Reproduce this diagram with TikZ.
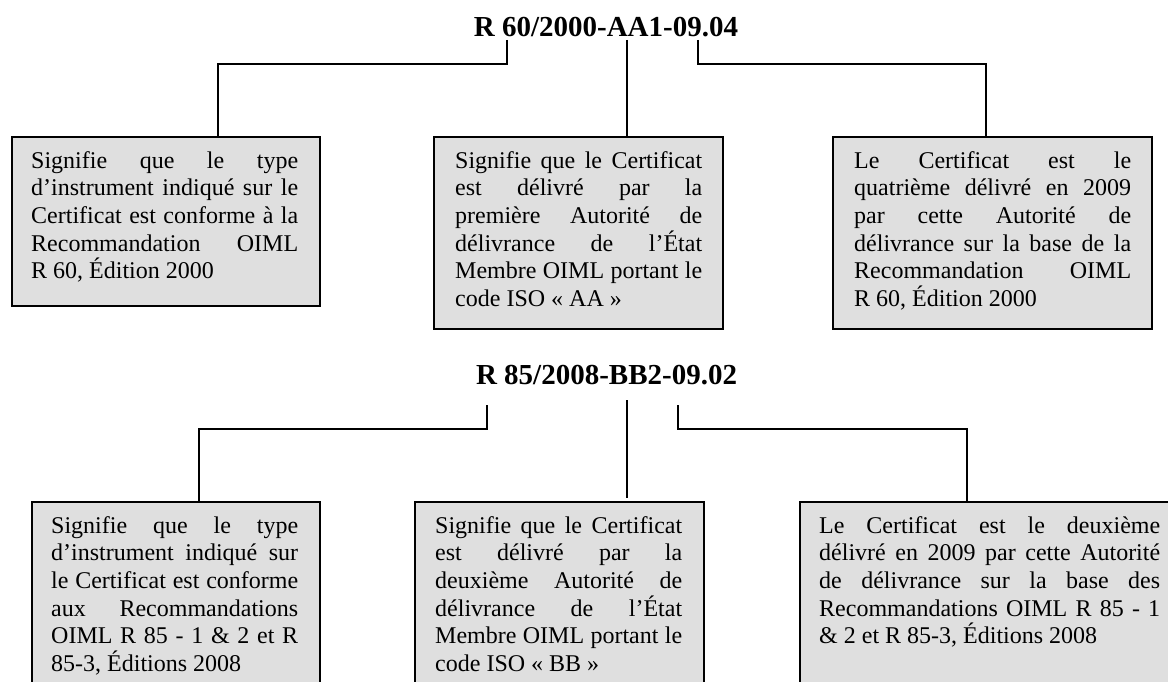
\documentclass[tikz,border=0pt]{standalone}
\usepackage{fontspec}
\setmainfont{Liberation Serif}
\definecolor{boxgray}{RGB}{223,223,223}
\tolerance=10000
\hyphenpenalty=10000
\begin{document}
\begin{tikzpicture}[x=1pt, y=-1pt,
    infobox/.style={draw, line width=1.6pt, fill=boxgray, inner sep=0pt, anchor=north west},
    boxtext/.style={text width=#1, align=justify, inner sep=0pt, anchor=base west,
        font=\fontsize{24}{27.7}\selectfont},
    certcode/.style={inner sep=0pt, anchor=base, font=\fontsize{29}{33}\selectfont\bfseries},
    link/.style={line width=1.4pt}]
    \useasboundingbox (0,0) rectangle (1168,682);
    \clip (0,0) rectangle (1168,682);
    % boxes: name/x/y/width/height
    \foreach \n/\x/\y/\w/\h in {sensA1/11/136/308/169, sensA2/433/136/289/192, sensA3/832/136/319/192,
                                sensB1/31/501/288/220, sensB2/414/501/289/220, sensB3/799/501/390/220} {
        \node[infobox, minimum width=\w, minimum height=\h] (\n) at (\x,\y) {};
    }
    % first number
    \node[certcode] (cert1) at (606,37) {R 60/2000-AA1-09.04};
    \node[boxtext=267] (txtA1) at (31,168) {Signifie que le type\linebreak
        d’instrument indiqué sur le\linebreak Certificat est conforme à la\linebreak
        Recommandation OIML\linebreak R 60, Édition 2000};
    \node[boxtext=247] (txtA2) at (455,168) {Signifie que le Certificat\linebreak
        est délivré par la\linebreak première Autorité de\linebreak
        délivrance de l’État\linebreak Membre OIML portant le\linebreak code ISO «~AA~»};
    \node[boxtext=277] (txtA3) at (854,168) {Le Certificat est le\linebreak
        quatrième délivré en 2009\linebreak par cette Autorité de\linebreak
        délivrance sur la base de la\linebreak Recommandation OIML\linebreak R 60, Édition 2000};
    \coordinate (tapA1) at (507,40);
    \coordinate (tapA2) at (627,40);
    \coordinate (tapA3) at (698,40);
    \draw[link] (tapA1) -- ++(0,24) -| ([xshift=207pt]sensA1.north west);
    \draw[link] (tapA2) -- (tapA2 |- sensA2.north);
    \draw[link] (tapA3) -- ++(0,24) -| ([xshift=154pt]sensA3.north west);
    % second number
    \node[certcode] (cert2) at (606.5,384) {R 85/2008-BB2-09.02};
    \node[boxtext=247] (txtB1) at (51,533) {Signifie que le type\linebreak
        d’instrument indiqué sur\linebreak le Certificat est conforme\linebreak
        aux Recommandations\linebreak OIML R 85 - 1 \& 2 et R\linebreak 85-3, Éditions 2008};
    \node[boxtext=247] (txtB2) at (435,533) {Signifie que le Certificat\linebreak
        est délivré par la\linebreak deuxième Autorité de\linebreak
        délivrance de l’État\linebreak Membre OIML portant le\linebreak code ISO «~BB~»};
    \node[boxtext=341] (txtB3) at (819,533) {Le Certificat est le deuxième\linebreak
        délivré en 2009 par cette Autorité\linebreak de délivrance sur la base des\linebreak
        Recommandations OIML R 85 - 1\linebreak \& 2 et R 85-3, Éditions 2008};
    \coordinate (tapB1) at (487,405);
    \coordinate (tapB2) at (627,400);
    \coordinate (tapB3) at (678,405);
    \draw[link] (tapB1) -- ++(0,24) -| ([xshift=168pt]sensB1.north west);
    \draw[link, shorten >=3pt] (tapB2) -- (tapB2 |- sensB2.north);
    \draw[link] (tapB3) -- ++(0,24) -| ([xshift=168pt]sensB3.north west);
\end{tikzpicture}
\end{document}
